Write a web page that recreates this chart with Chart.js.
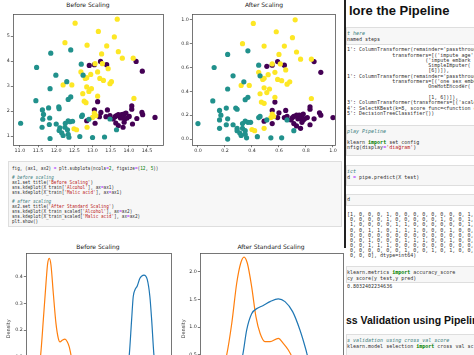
<!DOCTYPE html>
<html><head><meta charset="utf-8">
<script src="https://cdn.jsdelivr.net/npm/chart.js@4.4.1/dist/chart.umd.min.js"></script>
<style>
html,body{margin:0;padding:0;background:#fff;}
body{width:474px;height:355px;overflow:hidden;position:relative;font-family:"DejaVu Sans",sans-serif;}
.box{position:absolute;}
canvas{display:block;}
.ttl{position:absolute;font-family:"DejaVu Sans",sans-serif;font-size:6px;color:#222;white-space:nowrap;transform:translate(-50%,-50%);line-height:1;}
.code{position:absolute;white-space:pre;font-family:"DejaVu Sans Mono",monospace;transform-origin:0 0;transform:scale(0.5);color:#333;}
.c{color:#408080;font-style:italic}
.s{color:#ba2121}
.k{color:#008000;font-weight:bold}
.n{color:#008000}
.o{color:#aa22ff}
.cell{position:absolute;background:#f7f7f7;border:1px solid #dedede;box-sizing:border-box;}
.h{position:absolute;font-family:"Liberation Sans",Arial,sans-serif;font-weight:bold;color:#111;white-space:nowrap;line-height:1;}
</style></head><body>

<!-- scatter titles -->
<div class="ttl" style="left:88px;top:5px;">Before Scaling</div>
<div class="ttl" style="left:264px;top:5px;">After Scaling</div>
<div class="box" style="left:0;top:10px;width:167px;height:146px;"><canvas id="sc1" width="167" height="146"></canvas></div>
<div class="box" style="left:175px;top:10px;width:165px;height:146px;"><canvas id="sc2" width="165" height="146"></canvas></div>

<!-- code cell bottom-left -->
<div class="cell" style="left:8px;top:161px;width:334px;height:66px;"></div>
<div class="code" style="left:12px;top:165.6px;font-size:8.7px;line-height:9.6px;">fig, (ax1, ax2) <span class="o">=</span> plt.subplots(ncols<span class="o">=</span><span class="n">2</span>, figsize<span class="o">=</span>(<span class="n">12</span>, <span class="n">5</span>))

<span class="c"># before scaling</span>
ax1.set_title(<span class="s">'Before Scaling'</span>)
sns.kdeplot(X_train[<span class="s">'Alcohol'</span>], ax<span class="o">=</span>ax1)
sns.kdeplot(X_train[<span class="s">'Malic acid'</span>], ax<span class="o">=</span>ax1)

<span class="c"># after scaling</span>
ax2.set_title(<span class="s">'After Standard Scaling'</span>)
sns.kdeplot(X_train_scaled[<span class="s">'Alcohol'</span>], ax<span class="o">=</span>ax2)
sns.kdeplot(X_train_scaled[<span class="s">'Malic acid'</span>], ax<span class="o">=</span>ax2)
plt.show()</div>

<!-- KDE charts -->
<div class="ttl" style="left:98px;top:247px;">Before Scaling</div>
<div class="ttl" style="left:271px;top:247px;">After Standard Scaling</div>
<div class="box" style="left:0;top:240px;width:178px;height:175px;"><canvas id="kd1" width="178" height="175"></canvas></div>
<div class="box" style="left:170px;top:240px;width:180px;height:175px;"><canvas id="kd2" width="180" height="175"></canvas></div>

<!-- right notebook panel -->
<div class="box" style="left:345px;top:0;width:129px;height:355px;background:#fff;overflow:hidden;">
</div>
<div class="box" style="left:344px;top:0;width:2px;height:248px;background:#222;"></div>
<div class="h" style="left:349px;top:4px;font-size:13px;">lore the Pipeline</div>

<div class="cell" style="left:346px;top:27px;width:130px;height:18px;"></div>
<div class="code" style="left:347px;top:31px;font-size:10px;line-height:10.6px;"><span class="c">t here</span>
named_steps</div>

<div class="code" style="left:347px;top:47.2px;font-size:10px;line-height:10.6px;">1': ColumnTransformer(remainder='passthroug
               transformers=[('impute_age',
                          ('impute_embark
                           SimpleImputer(
                           [6])]),
1': ColumnTransformer(remainder='passthroug
               transformers=[('one_sex_ember
                           OneHotEncoder(

                           [1, 6])]),
3': ColumnTransformer(transformers=[('scale
4': SelectKBest(k=8, score_func=&lt;function c
5': DecisionTreeClassifier())</div>

<div class="cell" style="left:346px;top:125px;width:130px;height:31px;"></div>
<div class="code" style="left:347px;top:129.4px;font-size:10px;line-height:10.6px;"><span class="c">play Pipeline</span>

klearn <span class="k">import</span> set_config
nfig(display<span class="o">=</span><span class="s">'diagram'</span>)</div>

<div class="cell" style="left:346px;top:165px;width:130px;height:21px;"></div>
<div class="code" style="left:347px;top:169.4px;font-size:10px;line-height:10.6px;"><span class="c">ict</span>
d <span class="o">=</span> pipe.predict(X_test)</div>

<div class="cell" style="left:346px;top:194px;width:130px;height:12px;"></div>
<div class="code" style="left:347px;top:197.4px;font-size:10px;line-height:10.6px;">d</div>

<div class="code" style="left:347px;top:211.9px;font-size:10px;line-height:10.2px;">[1, 0, 0, 0, 1, 0, 0, 0, 0, 0, 0, 0, 0, 1,
 0, 0, 0, 0, 1, 0, 0, 0, 0, 0, 1, 0, 0, 1,
 1, 0, 0, 0, 0, 1, 1, 0, 0, 0, 0, 0, 0, 1,
 0, 0, 1, 1, 0, 1, 1, 1, 0, 0, 0, 1, 0, 0,
 0, 0, 0, 0, 0, 0, 0, 0, 0, 0, 0, 0, 0, 0,
 0, 0, 1, 0, 0, 0, 1, 1, 1, 0, 0, 1, 0, 0,
 0, 0, 1, 1, 1, 0, 0, 0, 0, 0, 0, 0, 0, 0,
 0, 0, 0, 0, 0, 0, 1, 0, 0, 1, 0, 1, 0, 0,
 0, 0, 0], dtype=int64)</div>

<div class="cell" style="left:346px;top:266px;width:130px;height:17px;"></div>
<div class="code" style="left:347px;top:270px;font-size:10px;line-height:10.6px;">klearn.metrics <span class="k">import</span> accuracy_score
cy_score(y_test,y_pred)</div>
<div class="code" style="left:347px;top:283.8px;font-size:10px;line-height:10.6px;">0.8032402234636</div>

<div class="h" style="left:346px;top:315px;font-size:10.5px;">ss Validation using Pipelin</div>
<div class="cell" style="left:346px;top:334px;width:130px;height:25px;"></div>
<div class="code" style="left:347px;top:338.4px;font-size:10px;line-height:10.6px;"><span class="c">s validation using cross_val_score</span>
klearn.model_selection <span class="k">import</span> cross_val_sc</div>

<script>
// ---------- data: Before Scaling scatter (Alcohol vs Malic acid) ----------
const beforeClass1 = [[11.02,1.52],[11.46,3.75],[11.44,2.42],[11.62,2.05],[11.65,1.87],[11.63,1.68],[11.61,1.36],[11.79,2.13],[11.82,1.73],[11.81,1.47],[11.83,0.91],[11.83,2.90],[11.85,4.32],[11.99,3.44],[12.07,2.17],[12.08,2.10],[12.00,1.49],[12.10,1.34],[12.08,1.23],[12.15,1.14],[12.19,1.03],[12.24,1.36],[12.25,1.52],[12.33,1.62],[12.38,1.58],[12.45,1.60],[12.29,3.18],[12.40,4.45],[12.33,2.47],[12.40,2.57],[12.31,1.26],[12.35,0.96],[12.33,1.08],[12.65,0.99],[12.70,1.79],[12.72,1.84],[12.69,3.88],[12.74,3.44],[13.00,0.95],[13.33,0.97],[13.66,1.26],[13.48,1.69],[12.90,1.68]];
const beforeClass2 = [[12.52,5.52],[12.24,4.74],[12.85,4.64],[12.19,3.05],[12.43,3.05],[12.68,3.57],[12.80,3.31],[12.84,2.97],[12.73,2.70],[12.77,2.40],[12.82,2.34],[12.85,1.36],[12.49,1.30],[12.56,1.26],[13.16,5.19],[13.68,5.68],[13.60,4.97],[13.39,4.61],[13.25,4.29],[13.71,4.38],[13.82,4.12],[14.12,4.12],[13.07,3.90],[13.27,3.90],[13.43,3.70],[13.14,3.57],[12.95,3.47],[12.84,3.34],[13.20,3.31],[13.30,3.23],[13.52,3.18],[13.48,3.10],[12.97,2.90],[12.90,2.79],[13.14,2.60],[14.14,2.51],[13.05,1.92],[13.09,1.82],[13.00,1.75]];
const beforeClass0 = [[12.91,3.83],[13.05,3.86],[13.22,3.99],[13.39,3.86],[14.20,3.99],[14.37,3.60],[13.14,2.38],[13.05,2.05],[12.84,1.62],[13.07,1.52],[13.19,1.78],[13.23,1.95],[13.37,1.78],[13.48,1.82],[13.62,1.78],[13.66,1.82],[13.71,1.86],[13.75,1.82],[13.80,1.86],[13.86,1.88],[13.77,1.73],[13.84,1.73],[13.89,1.69],[13.95,1.73],[14.01,1.79],[13.87,1.56],[13.84,1.36],[13.71,1.43],[13.57,1.69],[14.10,1.49],[14.08,2.21],[14.08,2.08],[14.22,1.71],[14.36,1.95],[14.38,1.86],[14.72,1.75],[13.41,2.05],[13.64,1.53],[13.92,1.92]];

// ---------- data: After Scaling scatter ----------
const afterClass1 = [[0.00,0.13],[0.12,0.60],[0.11,0.32],[0.16,0.24],[0.17,0.20],[0.16,0.16],[0.16,0.09],[0.21,0.26],[0.22,0.17],[0.21,0.12],[0.22,0.00],[0.22,0.42],[0.22,0.71],[0.26,0.53],[0.28,0.26],[0.29,0.25],[0.26,0.12],[0.29,0.09],[0.29,0.07],[0.31,0.05],[0.32,0.03],[0.33,0.09],[0.33,0.13],[0.35,0.15],[0.37,0.14],[0.39,0.14],[0.34,0.48],[0.37,0.74],[0.35,0.33],[0.37,0.35],[0.35,0.07],[0.36,0.01],[0.35,0.04],[0.44,0.02],[0.45,0.18],[0.46,0.19],[0.45,0.62],[0.46,0.53],[0.54,0.01],[0.62,0.01],[0.71,0.07],[0.66,0.16],[0.51,0.16]];
const afterClass2 = [[0.41,0.97],[0.33,0.80],[0.49,0.78],[0.32,0.45],[0.38,0.45],[0.45,0.56],[0.48,0.50],[0.49,0.43],[0.46,0.38],[0.47,0.31],[0.49,0.30],[0.49,0.09],[0.40,0.08],[0.42,0.07],[0.58,0.90],[0.72,1.00],[0.70,0.85],[0.64,0.78],[0.60,0.71],[0.73,0.73],[0.76,0.67],[0.84,0.67],[0.55,0.63],[0.61,0.63],[0.65,0.58],[0.57,0.56],[0.52,0.54],[0.49,0.51],[0.59,0.50],[0.62,0.49],[0.68,0.48],[0.66,0.46],[0.53,0.42],[0.51,0.39],[0.57,0.35],[0.84,0.34],[0.55,0.21],[0.56,0.19],[0.54,0.18]];
const afterClass0 = [[0.51,0.61],[0.55,0.62],[0.59,0.65],[0.64,0.62],[0.86,0.65],[0.91,0.56],[0.57,0.31],[0.55,0.24],[0.49,0.15],[0.55,0.13],[0.59,0.18],[0.60,0.22],[0.64,0.18],[0.66,0.19],[0.70,0.18],[0.71,0.19],[0.73,0.20],[0.74,0.19],[0.75,0.20],[0.77,0.20],[0.74,0.17],[0.76,0.17],[0.78,0.16],[0.79,0.17],[0.81,0.18],[0.77,0.14],[0.76,0.09],[0.73,0.11],[0.69,0.16],[0.83,0.12],[0.83,0.27],[0.83,0.25],[0.86,0.17],[0.90,0.22],[0.91,0.20],[1.00,0.18],[0.65,0.24],[0.71,0.13],[0.78,0.21]];

// ---------- data: KDE curves ----------
const kdeBeforeMalicX   = [0.0,0.32,0.65,0.98,1.19,1.39,1.6,1.89,2.22,2.51,2.72,3.05,3.34,3.62,3.87,4.08,4.4];
const kdeBeforeMalicY   = [0.04,0.107,0.238,0.375,0.45,0.469,0.444,0.338,0.225,0.169,0.156,0.163,0.166,0.156,0.137,0.107,0.06];
const kdeBeforeAlcoholX = [11.0,11.32,11.61,11.81,12.02,12.31,12.64,13.14,13.55,13.88,14.1,14.38,14.7];
const kdeBeforeAlcoholY = [0.04,0.107,0.238,0.325,0.35,0.365,0.394,0.406,0.39,0.325,0.238,0.107,0.03];
const kdeAfterMalicX    = [-2.6,-2.32,-2.0,-1.69,-1.44,-1.23,-1.02,-0.75,-0.48,-0.22,0.09,0.41,0.93,1.24,1.56,1.73,2.0];
const kdeAfterMalicY    = [0.2,0.50,1.07,1.79,2.15,2.26,2.15,1.73,1.19,0.89,0.74,0.74,0.80,0.71,0.59,0.50,0.35];
const kdeAfterAlcoholX  = [-1.6,-1.31,-1.06,-0.75,-0.39,-0.02,0.41,0.93,1.35,1.83,2.29,2.67,2.75,3.0];
const kdeAfterAlcoholY  = [0.2,0.50,0.95,1.24,1.34,1.39,1.46,1.51,1.46,1.28,0.95,0.59,0.50,0.25];

// ---------- tick labels ----------
const sc1XTicks = [11.0,11.5,12.0,12.5,13.0,13.5,14.0,14.5];
const sc1YTicks = [1,2,3,4,5];
const sc2XTicks = [0.0,0.2,0.4,0.6,0.8,1.0];
const sc2YTicks = [0.0,0.2,0.4,0.6,0.8,1.0];
const kd1YTicks = [0.0,0.1,0.2,0.3,0.4];
const kd2YTicks = [0.0,0.5,1.0,1.5,2.0];
const kd1XTicks = [0,5,10,15];
const kd2XTicks = [-2,0,2,4];

const PURPLE='#440154', TEAL='#21918c', YELLOW='#fde725';
const BLUE='#1f77b4', ORANGE='#ff7f0e';

const framePlugin = {id:'frame', afterDatasetsDraw(c){const a=c.chartArea,ctx=c.ctx;ctx.save();ctx.strokeStyle='#555';ctx.lineWidth=0.8;ctx.strokeRect(Math.round(a.left)+0.5,Math.round(a.top)+0.5,Math.round(a.right-a.left),Math.round(a.bottom-a.top));ctx.restore();}};

function axis(range, ticks, fmt, fitKey, fitVal, extra){
  return Object.assign({
    type:'linear', min:range[0], max:range[1],
    afterBuildTicks:s=>{s.ticks=ticks.map(v=>({value:v}));},
    afterFit:s=>{s[fitKey]=fitVal;},
    grid:{drawOnChartArea:false,drawTicks:true,tickLength:2.2,color:'#444',lineWidth:0.7},
    border:{display:false},
    ticks:{font:{size:4.8,family:'DejaVu Sans'},color:'#333',padding:1,maxRotation:0,autoSkip:false,callback:fmt}
  }, extra||{});
}
const f0=v=>String(Math.round(v)), f1=v=>Number(v).toFixed(1);

function scatter(id, sets, xr, yr, xt, yt, xf, yf, yW, padR){
  new Chart(document.getElementById(id), {
    type:'scatter',
    data:{datasets:sets.map(([d,col])=>({data:d.map(p=>({x:p[0],y:p[1]})),backgroundColor:col,borderColor:col,borderWidth:0,pointRadius:2.6,pointHoverRadius:2.6}))},
    options:{responsive:false,animation:false,devicePixelRatio:1,
      layout:{padding:{left:0,right:padR,top:0,bottom:0}},
      plugins:{legend:{display:false},tooltip:{enabled:false}},
      scales:{x:axis(xr,xt,xf,'height',11),y:axis(yr,yt,yf,'width',yW)}},
    plugins:[framePlugin]
  });
}
scatter('sc1',[[beforeClass1,TEAL],[beforeClass2,YELLOW],[beforeClass0,PURPLE]],[10.81,14.94],[0.65,5.89],sc1XTicks,sc1YTicks,f1,f0,13,4);
scatter('sc2',[[afterClass1,TEAL],[afterClass2,YELLOW],[afterClass0,PURPLE]],[-0.044,1.015],[-0.05,1.05],sc2XTicks,sc2YTicks,f1,f1,17,5);

function kde(id, curves, xr, yr, xt, yt, yW, padR, titlePad){
  new Chart(document.getElementById(id), {
    type:'scatter',
    data:{datasets:curves.map(([xs,ys,col])=>({data:xs.map((x,i)=>({x:x,y:ys[i]})),showLine:true,borderColor:col,backgroundColor:col,borderWidth:1.2,pointRadius:0,cubicInterpolationMode:'monotone'}))},
    options:{responsive:false,animation:false,devicePixelRatio:1,
      layout:{padding:{left:0,right:padR,top:12.7,bottom:0}},
      plugins:{legend:{display:false},tooltip:{enabled:false}},
      scales:{x:axis(xr,xt,f0,'height',10),
              y:axis(yr,yt,f1,'width',yW,{title:{display:true,text:'Density',font:{size:5,family:'DejaVu Sans'},color:'#333',padding:{top:titlePad,bottom:0}}})}},
    plugins:[framePlugin]
  });
}
kde('kd1',[[kdeBeforeAlcoholX,kdeBeforeAlcoholY,BLUE],[kdeBeforeMalicX,kdeBeforeMalicY,ORANGE]],[-1.5,16.5],[-0.081,0.49],kd1XTicks,kd1YTicks,26,7,6);
kde('kd2',[[kdeAfterAlcoholX,kdeAfterAlcoholY,BLUE],[kdeAfterMalicX,kdeAfterMalicY,ORANGE]],[-4,5],[-0.40,2.34],kd2XTicks,kd2YTicks,30,7,11);
</script>
</body></html>
